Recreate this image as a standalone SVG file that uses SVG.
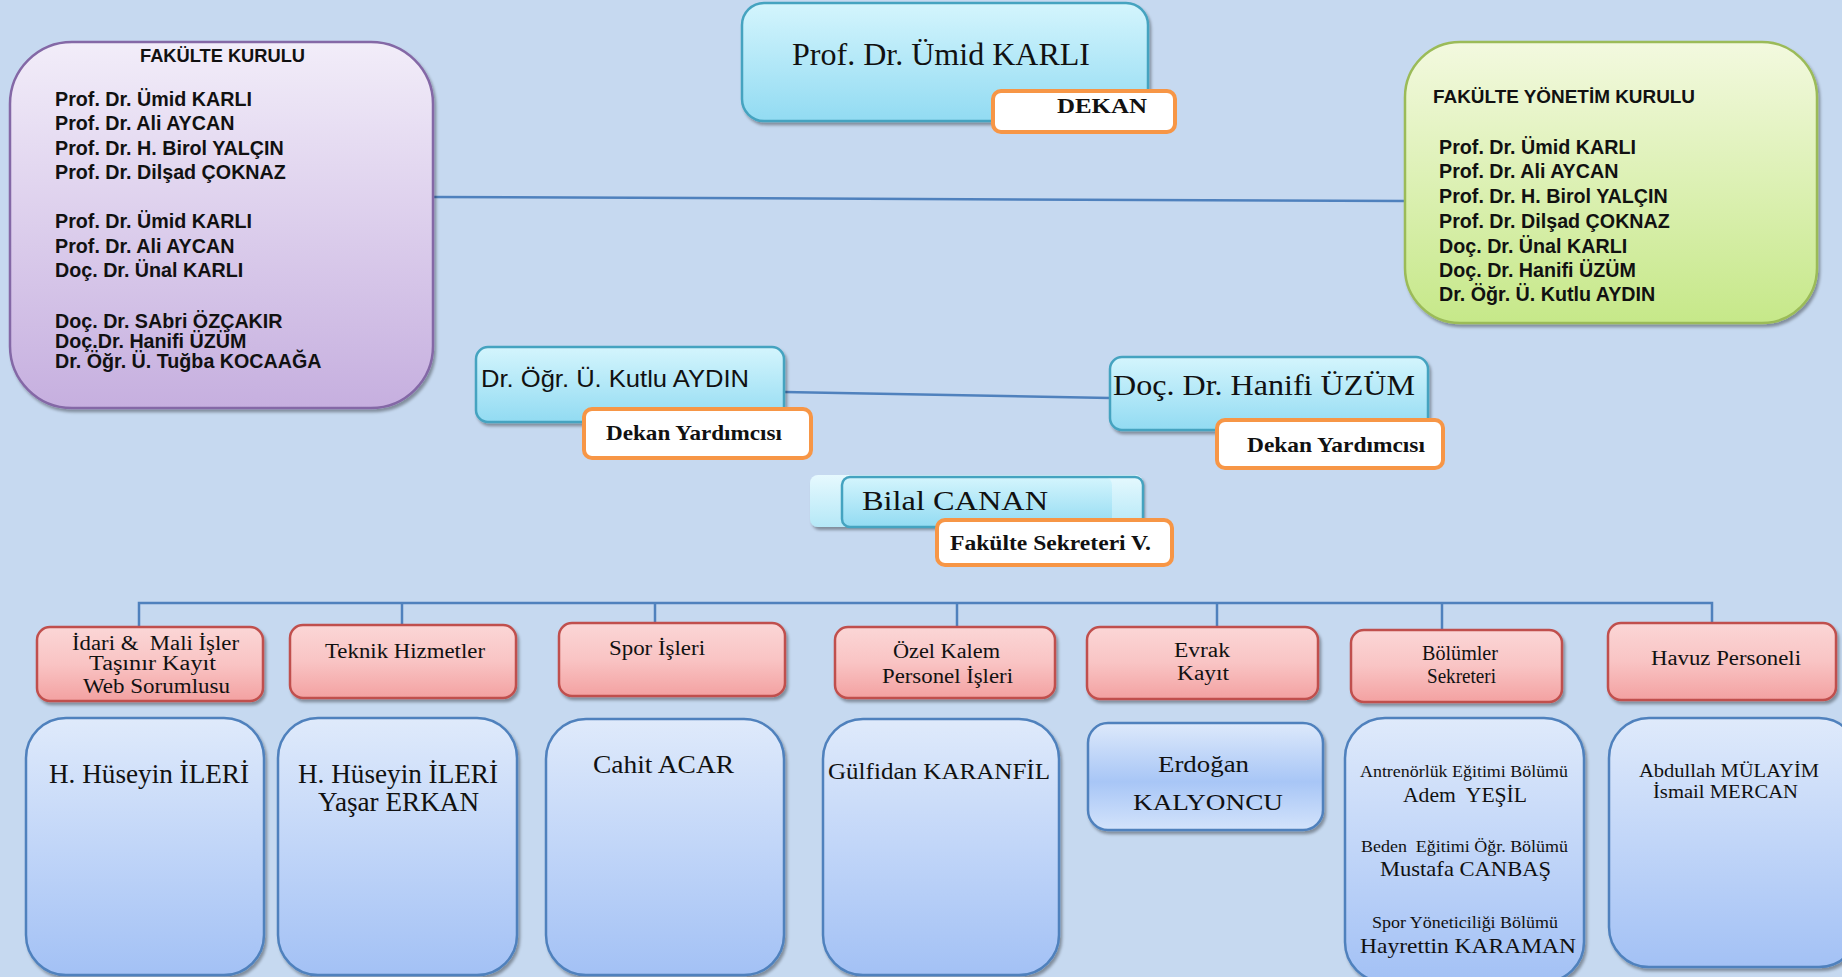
<svg xmlns="http://www.w3.org/2000/svg" width="1842" height="977" viewBox="0 0 1842 977">
<defs>
<linearGradient id="gFK" x1="0" y1="0" x2="0" y2="1"><stop offset="0" stop-color="#f2edf9"/><stop offset="1" stop-color="#c6afdf"/></linearGradient>
<linearGradient id="gFYK" x1="0" y1="0" x2="0" y2="1"><stop offset="0" stop-color="#f3f9df"/><stop offset="1" stop-color="#c6e889"/></linearGradient>
<linearGradient id="gCyan" x1="0" y1="0" x2="0" y2="1"><stop offset="0" stop-color="#d4f5fd"/><stop offset="1" stop-color="#92dbf2"/></linearGradient>
<linearGradient id="gCyanL" x1="0" y1="0" x2="0" y2="1"><stop offset="0" stop-color="#e6f9fe"/><stop offset="1" stop-color="#b5e8f7"/></linearGradient>
<linearGradient id="gRed" x1="0" y1="0" x2="0" y2="1"><stop offset="0" stop-color="#fbd6d6"/><stop offset="0.5" stop-color="#f9c4c4"/><stop offset="1" stop-color="#f3a1a1"/></linearGradient>
<linearGradient id="gBlue" x1="0" y1="0" x2="0" y2="1"><stop offset="0" stop-color="#dfeafb"/><stop offset="1" stop-color="#a3c1f5"/></linearGradient>
<linearGradient id="gErd" x1="0" y1="0" x2="0" y2="1"><stop offset="0" stop-color="#dde9fb"/><stop offset="0.55" stop-color="#a8c6f6"/><stop offset="1" stop-color="#d3e3fb"/></linearGradient>
<filter id="sh" x="-10%" y="-10%" width="120%" height="130%"><feDropShadow dx="2" dy="3" stdDeviation="1.5" flood-color="#000" flood-opacity="0.35"/></filter>
<style>
.fk{fill:url(#gFK);stroke:#8468a6;stroke-width:2.5}
.fyk{fill:url(#gFYK);stroke:#9bbb59;stroke-width:2.5}
.cy{fill:url(#gCyan);stroke:#44a3c0;stroke-width:2.5}
.or{fill:#fff;stroke:#f79646;stroke-width:4}
.rd{fill:url(#gRed);stroke:#c0504d;stroke-width:2.5}
.bl{fill:url(#gBlue);stroke:#4f81bd;stroke-width:2.5}
.cn{stroke:#4f81bd;stroke-width:2.5;fill:none}
.sb{font-family:"Liberation Sans",Arial,sans-serif;font-weight:bold;fill:#111}
.ss{font-family:"Liberation Sans",Arial,sans-serif;fill:#111}
.se{font-family:"Liberation Serif","Times New Roman",serif;fill:#111}
.seb{font-family:"Liberation Serif","Times New Roman",serif;font-weight:bold;fill:#111}
</style>
</defs>
<rect x="0" y="0" width="1842" height="977" fill="#c6d9f0"/>

<g id="connectors">
<line class="cn" x1="433" y1="197" x2="1405" y2="201"/>
<line class="cn" x1="784" y1="392" x2="1110" y2="398"/>
<polyline class="cn" points="139,627 139,603 1712,603 1712,623"/>
<line class="cn" x1="402" y1="603" x2="402" y2="625"/>
<line class="cn" x1="655" y1="603" x2="655" y2="623"/>
<line class="cn" x1="957" y1="603" x2="957" y2="627"/>
<line class="cn" x1="1217" y1="603" x2="1217" y2="627"/>
<line class="cn" x1="1442" y1="603" x2="1442" y2="630"/>
</g>

<g id="fakulte-kurulu">
<rect class="fk" x="10" y="42" width="423" height="366" rx="62" filter="url(#sh)"/>
<text class="sb" x="140" y="62" font-size="18" textLength="165" lengthAdjust="spacingAndGlyphs">FAKÜLTE KURULU</text>
<g class="sb" font-size="19.7">
<text x="55" y="106">Prof. Dr. Ümid KARLI</text>
<text x="55" y="130">Prof. Dr. Ali AYCAN</text>
<text x="55" y="155">Prof. Dr. H. Birol YALÇIN</text>
<text x="55" y="179">Prof. Dr. Dilşad ÇOKNAZ</text>
<text x="55" y="228">Prof. Dr. Ümid KARLI</text>
<text x="55" y="253">Prof. Dr. Ali AYCAN</text>
<text x="55" y="277">Doç. Dr. Ünal KARLI</text>
<text x="55" y="328">Doç. Dr. SAbri ÖZÇAKIR</text>
<text x="55" y="348">Doç.Dr. Hanifi ÜZÜM</text>
<text x="55" y="368">Dr. Öğr. Ü. Tuğba KOCAAĞA</text>
</g>
</g>

<g id="dekan">
<rect class="cy" x="742" y="3" width="406" height="118" rx="22" filter="url(#sh)"/>
<text class="se" x="792" y="65" font-size="31" textLength="298" lengthAdjust="spacingAndGlyphs">Prof. Dr. Ümid KARLI</text>
<rect class="or" x="993" y="91" width="182" height="41" rx="8"/>
<text class="seb" x="1057" y="113" font-size="20" textLength="90" lengthAdjust="spacingAndGlyphs">DEKAN</text>
</g>

<g id="fakulte-yonetim-kurulu">
<rect class="fyk" x="1405" y="42" width="412" height="281" rx="55" filter="url(#sh)"/>
<text class="sb" x="1433" y="103" font-size="18" textLength="262" lengthAdjust="spacingAndGlyphs">FAKÜLTE YÖNETİM KURULU</text>
<g class="sb" font-size="19.7">
<text x="1439" y="154">Prof. Dr. Ümid KARLI</text>
<text x="1439" y="178">Prof. Dr. Ali AYCAN</text>
<text x="1439" y="203">Prof. Dr. H. Birol YALÇIN</text>
<text x="1439" y="228">Prof. Dr. Dilşad ÇOKNAZ</text>
<text x="1439" y="253">Doç. Dr. Ünal KARLI</text>
<text x="1439" y="277">Doç. Dr. Hanifi ÜZÜM</text>
<text x="1439" y="301">Dr. Öğr. Ü. Kutlu AYDIN</text>
</g>
</g>

<g id="dekan-yardimcisi-1">
<rect class="cy" x="476" y="347" width="308" height="75" rx="12" filter="url(#sh)"/>
<text class="ss" x="481" y="387" font-size="24" textLength="268" lengthAdjust="spacingAndGlyphs">Dr. Öğr. Ü. Kutlu AYDIN</text>
<rect class="or" x="584" y="409" width="227" height="49" rx="8"/>
<text class="seb" x="606" y="440" font-size="21" textLength="176" lengthAdjust="spacingAndGlyphs">Dekan Yardımcısı</text>
</g>

<g id="dekan-yardimcisi-2">
<rect class="cy" x="1110" y="357" width="318" height="73" rx="12" filter="url(#sh)"/>
<text class="se" x="1113" y="395" font-size="29" textLength="302" lengthAdjust="spacingAndGlyphs">Doç. Dr. Hanifi ÜZÜM</text>
<rect class="or" x="1217" y="420" width="226" height="48" rx="8"/>
<text class="seb" x="1247" y="452" font-size="21" textLength="178" lengthAdjust="spacingAndGlyphs">Dekan Yardımcısı</text>
</g>

<g id="fakulte-sekreteri">
<rect x="810" y="475" width="333" height="52" rx="8" fill="url(#gCyanL)" filter="url(#sh)"/>
<rect x="842" y="477" width="270" height="50" rx="8" fill="url(#gCyan)"/>
<rect x="842" y="477" width="301" height="50" rx="8" fill="none" stroke="#44a3c0" stroke-width="2.5"/>
<text class="se" x="862" y="510" font-size="28" textLength="186" lengthAdjust="spacingAndGlyphs">Bilal CANAN</text>
<rect class="or" x="937" y="520" width="235" height="45" rx="8"/>
<text class="seb" x="950" y="550" font-size="20" textLength="201" lengthAdjust="spacingAndGlyphs">Fakülte Sekreteri V.</text>
</g>

<g id="idari-mali">
<rect class="rd" x="37" y="627" width="226" height="74" rx="13" filter="url(#sh)"/>
<text class="se" x="72" y="650" font-size="20" textLength="167" lengthAdjust="spacingAndGlyphs" xml:space="preserve">İdari &amp;  Mali İşler</text>
<text class="se" x="89" y="670" font-size="20" textLength="127" lengthAdjust="spacingAndGlyphs">Taşınır Kayıt</text>
<text class="se" x="83" y="693" font-size="20" textLength="147" lengthAdjust="spacingAndGlyphs">Web Sorumlusu</text>
</g>
<g id="idari-mali-kisi">
<rect class="bl" x="26" y="718" width="238" height="257" rx="40" filter="url(#sh)"/>
<text class="se" x="49" y="783" font-size="27" textLength="200" lengthAdjust="spacingAndGlyphs">H. Hüseyin İLERİ</text>
</g>

<g id="teknik">
<rect class="rd" x="290" y="625" width="226" height="73" rx="13" filter="url(#sh)"/>
<text class="se" x="325" y="658" font-size="20" textLength="160" lengthAdjust="spacingAndGlyphs">Teknik Hizmetler</text>
</g>
<g id="teknik-kisi">
<rect class="bl" x="278" y="718" width="239" height="257" rx="40" filter="url(#sh)"/>
<text class="se" x="298" y="783" font-size="27" textLength="200" lengthAdjust="spacingAndGlyphs">H. Hüseyin İLERİ</text>
<text class="se" x="318" y="811" font-size="27" textLength="161" lengthAdjust="spacingAndGlyphs">Yaşar ERKAN</text>
</g>

<g id="spor">
<rect class="rd" x="559" y="623" width="226" height="73" rx="13" filter="url(#sh)"/>
<text class="se" x="609" y="655" font-size="20" textLength="96" lengthAdjust="spacingAndGlyphs">Spor İşleri</text>
</g>
<g id="spor-kisi">
<rect class="bl" x="546" y="719" width="238" height="256" rx="40" filter="url(#sh)"/>
<text class="se" x="593" y="773" font-size="25" textLength="141" lengthAdjust="spacingAndGlyphs">Cahit ACAR</text>
</g>

<g id="ozel-kalem">
<rect class="rd" x="835" y="627" width="220" height="71" rx="13" filter="url(#sh)"/>
<text class="se" x="893" y="658" font-size="20" textLength="107" lengthAdjust="spacingAndGlyphs">Özel Kalem</text>
<text class="se" x="882" y="683" font-size="20" textLength="131" lengthAdjust="spacingAndGlyphs">Personel İşleri</text>
</g>
<g id="ozel-kalem-kisi">
<rect class="bl" x="823" y="719" width="236" height="256" rx="40" filter="url(#sh)"/>
<text class="se" x="828" y="779" font-size="24" textLength="222" lengthAdjust="spacingAndGlyphs">Gülfidan KARANFİL</text>
</g>

<g id="evrak">
<rect class="rd" x="1087" y="627" width="231" height="72" rx="13" filter="url(#sh)"/>
<text class="se" x="1174" y="657" font-size="20" textLength="56" lengthAdjust="spacingAndGlyphs">Evrak</text>
<text class="se" x="1177" y="680" font-size="20" textLength="52" lengthAdjust="spacingAndGlyphs">Kayıt</text>
</g>
<g id="evrak-kisi">
<rect x="1088" y="723" width="235" height="107" rx="20" fill="url(#gErd)" stroke="#4f81bd" stroke-width="2.5" filter="url(#sh)"/>
<text class="se" x="1158" y="772" font-size="24" textLength="91" lengthAdjust="spacingAndGlyphs">Erdoğan</text>
<text class="se" x="1133" y="810" font-size="24" textLength="150" lengthAdjust="spacingAndGlyphs">KALYONCU</text>
</g>

<g id="bolumler">
<rect class="rd" x="1351" y="630" width="211" height="72" rx="13" filter="url(#sh)"/>
<text class="se" x="1422" y="660" font-size="20" textLength="76" lengthAdjust="spacingAndGlyphs">Bölümler</text>
<text class="se" x="1427" y="683" font-size="20" textLength="69" lengthAdjust="spacingAndGlyphs">Sekreteri</text>
</g>
<g id="bolumler-kisi">
<rect class="bl" x="1345" y="718" width="239" height="264" rx="40" filter="url(#sh)"/>
<text class="se" x="1360" y="777" font-size="16" textLength="208" lengthAdjust="spacingAndGlyphs">Antrenörlük Eğitimi Bölümü</text>
<text class="se" x="1403" y="802" font-size="22" textLength="124" lengthAdjust="spacingAndGlyphs" xml:space="preserve">Adem  YEŞİL</text>
<text class="se" x="1361" y="852" font-size="16" textLength="207" lengthAdjust="spacingAndGlyphs" xml:space="preserve">Beden  Eğitimi Öğr. Bölümü</text>
<text class="se" x="1380" y="876" font-size="22" textLength="171" lengthAdjust="spacingAndGlyphs">Mustafa CANBAŞ</text>
<text class="se" x="1372" y="928" font-size="16" textLength="186" lengthAdjust="spacingAndGlyphs">Spor Yöneticiliği Bölümü</text>
<text class="se" x="1360" y="953" font-size="22" textLength="216" lengthAdjust="spacingAndGlyphs">Hayrettin KARAMAN</text>
</g>

<g id="havuz">
<rect class="rd" x="1608" y="623" width="228" height="77" rx="13" filter="url(#sh)"/>
<text class="se" x="1651" y="665" font-size="20" textLength="150" lengthAdjust="spacingAndGlyphs">Havuz Personeli</text>
</g>
<g id="havuz-kisi">
<rect class="bl" x="1609" y="718" width="250" height="249" rx="40" filter="url(#sh)"/>
<text class="se" x="1639" y="777" font-size="19" textLength="180" lengthAdjust="spacingAndGlyphs">Abdullah MÜLAYİM</text>
<text class="se" x="1653" y="798" font-size="19" textLength="145" lengthAdjust="spacingAndGlyphs">İsmail MERCAN</text>
</g>
</svg>
